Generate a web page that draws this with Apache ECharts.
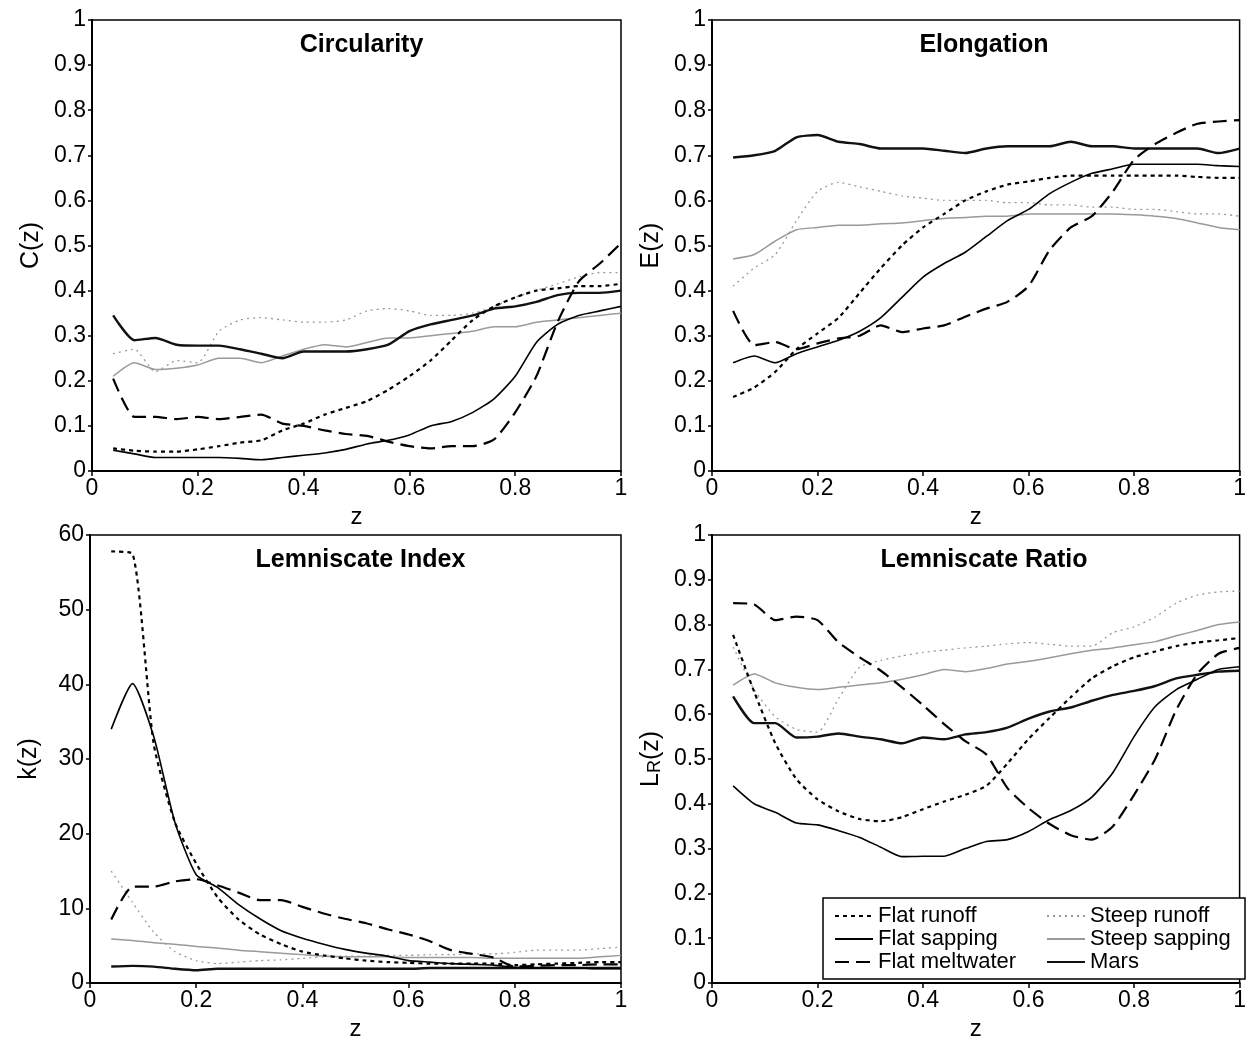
<!DOCTYPE html>
<html>
<head>
<meta charset="utf-8">
<script src="https://cdn.jsdelivr.net/npm/echarts@6/dist/echarts.min.js"></script>
<style>
    html, body { margin: 0; padding: 0; background: #fff; }
    #chart { width: 1249px; height: 1045px; }
</style>
</head>
<body>
<div id="chart"></div>
<script>
// z 坐标（横轴）
var zVals = [0.04, 0.08, 0.12, 0.16, 0.20, 0.24, 0.28, 0.32, 0.36, 0.40, 0.44, 0.48, 0.52,
    0.56, 0.60, 0.64, 0.68, 0.72, 0.76, 0.80, 0.84, 0.88, 0.92, 0.96, 1.00];

// Circularity
var circFlatRunoff = [0.05, 0.045, 0.043, 0.043, 0.048, 0.055, 0.063, 0.068, 0.09, 0.105, 0.125, 0.14, 0.155, 0.18, 0.21, 0.245, 0.29, 0.335, 0.365, 0.385, 0.40, 0.405, 0.41, 0.41, 0.415];
var circFlatSapping = [0.046, 0.038, 0.03, 0.03, 0.03, 0.03, 0.028, 0.025, 0.03, 0.035, 0.04, 0.048, 0.06, 0.068, 0.08, 0.10, 0.11, 0.13, 0.16, 0.21, 0.285, 0.325, 0.345, 0.355, 0.365];
var circFlatMelt = [0.205, 0.12, 0.12, 0.115, 0.12, 0.115, 0.12, 0.125, 0.105, 0.10, 0.09, 0.082, 0.078, 0.065, 0.055, 0.05, 0.055, 0.055, 0.07, 0.13, 0.21, 0.33, 0.42, 0.46, 0.505];
var circSteepRunoff = [0.26, 0.27, 0.22, 0.245, 0.24, 0.31, 0.335, 0.34, 0.335, 0.33, 0.33, 0.335, 0.355, 0.36, 0.355, 0.345, 0.345, 0.35, 0.365, 0.385, 0.40, 0.415, 0.43, 0.44, 0.44];
var circSteepSapping = [0.21, 0.24, 0.225, 0.228, 0.235, 0.25, 0.25, 0.24, 0.255, 0.27, 0.28, 0.275, 0.285, 0.295, 0.295, 0.30, 0.305, 0.31, 0.32, 0.32, 0.33, 0.335, 0.34, 0.345, 0.35];
var circMars = [0.345, 0.29, 0.295, 0.28, 0.278, 0.278, 0.27, 0.26, 0.25, 0.265, 0.265, 0.265, 0.27, 0.28, 0.31, 0.325, 0.335, 0.345, 0.36, 0.365, 0.375, 0.39, 0.395, 0.395, 0.40];

// Elongation
var elonFlatRunoff = [0.164, 0.185, 0.22, 0.27, 0.305, 0.34, 0.395, 0.45, 0.50, 0.54, 0.57, 0.60, 0.62, 0.635, 0.642, 0.65, 0.655, 0.655, 0.655, 0.655, 0.655, 0.655, 0.652, 0.65, 0.65];
var elonFlatSapping = [0.24, 0.255, 0.24, 0.26, 0.275, 0.29, 0.31, 0.34, 0.385, 0.43, 0.46, 0.485, 0.52, 0.555, 0.58, 0.615, 0.64, 0.66, 0.67, 0.68, 0.68, 0.68, 0.68, 0.677, 0.675];
var elonFlatMelt = [0.355, 0.279, 0.286, 0.27, 0.283, 0.294, 0.30, 0.323, 0.308, 0.316, 0.323, 0.342, 0.36, 0.375, 0.41, 0.49, 0.54, 0.565, 0.62, 0.69, 0.725, 0.75, 0.77, 0.775, 0.778];
var elonSteepRunoff = [0.41, 0.45, 0.48, 0.555, 0.62, 0.64, 0.63, 0.62, 0.61, 0.605, 0.60, 0.60, 0.60, 0.595, 0.595, 0.59, 0.59, 0.585, 0.585, 0.58, 0.58, 0.575, 0.57, 0.57, 0.565];
var elonSteepSapping = [0.47, 0.48, 0.51, 0.535, 0.54, 0.545, 0.545, 0.548, 0.55, 0.555, 0.56, 0.562, 0.565, 0.565, 0.57, 0.57, 0.57, 0.57, 0.57, 0.568, 0.565, 0.56, 0.55, 0.54, 0.535];
var elonMars = [0.695, 0.70, 0.71, 0.74, 0.745, 0.73, 0.725, 0.715, 0.715, 0.715, 0.71, 0.705, 0.715, 0.72, 0.72, 0.72, 0.73, 0.72, 0.72, 0.715, 0.715, 0.715, 0.715, 0.705, 0.715];

// Lemniscate Index
var liFlatRunoff = [57.8, 57.5, 32, 21.5, 16, 11.5, 8.5, 6.5, 5.2, 4.2, 3.7, 3.3, 3.0, 2.8, 2.7, 2.6, 2.6, 2.6, 2.6, 2.4, 2.5, 2.6, 2.7, 2.8, 2.8];
var liFlatSapping = [34, 40.1, 33, 21.5, 14.5, 12.8, 10.5, 8.6, 7.0, 6.0, 5.2, 4.5, 4.0, 3.6, 3.0, 2.8, 2.6, 2.5, 2.4, 2.1, 2.0, 2.0, 2.0, 1.9, 1.9];
var liFlatMelt = [8.5, 12.9, 12.9, 13.6, 13.9, 13.1, 12.1, 11.1, 11.1, 10.2, 9.3, 8.6, 8.0, 7.2, 6.5, 5.6, 4.4, 3.9, 3.4, 2.2, 2.3, 2.4, 2.4, 2.5, 2.5];
var liSteepRunoff = [15, 10.8, 6.8, 4.2, 3.0, 2.6, 2.8, 3.0, 3.1, 3.3, 3.5, 3.6, 3.6, 3.7, 3.7, 3.8, 3.8, 3.9, 3.9, 4.1, 4.4, 4.4, 4.4, 4.6, 4.8];
var liSteepSapping = [5.9, 5.7, 5.4, 5.2, 4.9, 4.7, 4.4, 4.2, 4.0, 3.8, 3.6, 3.5, 3.5, 3.5, 3.4, 3.4, 3.4, 3.4, 3.3, 3.3, 3.3, 3.3, 3.3, 3.5, 3.7];
var liMars = [2.2, 2.3, 2.2, 1.9, 1.7, 1.9, 1.9, 1.9, 1.9, 1.9, 1.9, 1.9, 1.9, 1.9, 1.9, 2.0, 2.0, 2.0, 2.0, 2.0, 2.0, 2.0, 2.0, 2.0, 2.0];

// Lemniscate Ratio
var lrFlatRunoff = [0.777, 0.65, 0.535, 0.455, 0.41, 0.383, 0.366, 0.361, 0.37, 0.388, 0.405, 0.42, 0.44, 0.49, 0.545, 0.592, 0.638, 0.68, 0.707, 0.727, 0.74, 0.752, 0.76, 0.765, 0.77];
var lrFlatSapping = [0.44, 0.40, 0.381, 0.357, 0.353, 0.34, 0.325, 0.303, 0.282, 0.283, 0.283, 0.30, 0.316, 0.32, 0.338, 0.365, 0.385, 0.415, 0.47, 0.55, 0.617, 0.655, 0.678, 0.70, 0.706];
var lrFlatMelt = [0.848, 0.845, 0.81, 0.818, 0.81, 0.76, 0.727, 0.697, 0.66, 0.62, 0.578, 0.54, 0.51, 0.435, 0.39, 0.355, 0.33, 0.32, 0.35, 0.42, 0.50, 0.61, 0.69, 0.735, 0.748];
var lrSteepRunoff = [0.75, 0.655, 0.594, 0.566, 0.56, 0.635, 0.705, 0.72, 0.73, 0.738, 0.743, 0.748, 0.752, 0.757, 0.76, 0.756, 0.752, 0.752, 0.782, 0.795, 0.817, 0.848, 0.866, 0.873, 0.875];
var lrSteepSapping = [0.665, 0.69, 0.67, 0.66, 0.655, 0.66, 0.665, 0.67, 0.678, 0.688, 0.70, 0.695, 0.702, 0.712, 0.718, 0.726, 0.735, 0.743, 0.748, 0.755, 0.762, 0.775, 0.787, 0.80, 0.806];
var lrMars = [0.64, 0.58, 0.58, 0.548, 0.55, 0.557, 0.55, 0.544, 0.535, 0.548, 0.544, 0.555, 0.56, 0.57, 0.59, 0.606, 0.615, 0.63, 0.643, 0.652, 0.663, 0.68, 0.688, 0.695, 0.697];

var seriesNames = ['Flat runoff', 'Flat sapping', 'Flat meltwater', 'Steep runoff', 'Steep sapping', 'Mars'];
var panelTitles = ['Circularity', 'Elongation', 'Lemniscate Index', 'Lemniscate Ratio'];
var yNames = ['{n|C(z)}', '{n|E(z)}', '{n|k(z)}', '{n|L}{s|R}{n|(z)}'];

var FONT = '"Liberation Sans", Arial, sans-serif';

// 线型
var lineStyles = [
    {color: '#000', width: 2.2, type: [4, 4]},
    {color: '#000', width: 1.6, type: 'solid'},
    {color: '#000', width: 2.2, type: [14, 7]},
    {color: '#9a9a9a', width: 1.3, type: [2, 4]},
    {color: '#9a9a9a', width: 1.5, type: 'solid'},
    {color: '#111', width: 2.4, type: 'solid'}
];

var panelData = [
    [circFlatRunoff, circFlatSapping, circFlatMelt, circSteepRunoff, circSteepSapping, circMars],
    [elonFlatRunoff, elonFlatSapping, elonFlatMelt, elonSteepRunoff, elonSteepSapping, elonMars],
    [liFlatRunoff, liFlatSapping, liFlatMelt, liSteepRunoff, liSteepSapping, liMars],
    [lrFlatRunoff, lrFlatSapping, lrFlatMelt, lrSteepRunoff, lrSteepSapping, lrMars]
];

var grids = [
    {left: 92, top: 20, width: 529, height: 451},
    {left: 712, top: 20, width: 534, height: 451},
    {left: 90, top: 535, width: 531, height: 448},
    {left: 712, top: 535, width: 534, height: 448}
];

var chart = echarts.init(document.getElementById('chart'));

var xAxes = [], yAxes = [], series = [], titles = [];
for (var p = 0; p < 4; p++) {
    grids[p].show = true;
    grids[p].borderColor = '#000';
    grids[p].borderWidth = 1.5;
    grids[p].backgroundColor = 'transparent';

    xAxes.push({
        gridIndex: p, type: 'value', min: 0, max: 1, interval: 0.2,
        name: 'z', nameLocation: 'middle', nameGap: 34,
        nameTextStyle: {fontSize: 24, fontFamily: FONT, color: '#000'},
        axisLine: {lineStyle: {color: '#000', width: 2}},
        axisTick: {show: true, length: 5, lineStyle: {color: '#000', width: 1.5}},
        axisLabel: {fontSize: 23, fontFamily: FONT, color: '#000', margin: 6},
        splitLine: {show: false}
    });
    var isIndex = (p == 2);
    yAxes.push({
        gridIndex: p, type: 'value', min: 0,
        max: isIndex ? 60 : 1, interval: isIndex ? 10 : 0.1,
        name: yNames[p], nameLocation: 'middle', nameGap: 48,
        nameTextStyle: {
            fontFamily: FONT, color: '#000',
            rich: {
                n: {fontSize: 25, fontFamily: FONT, color: '#000'},
                s: {fontSize: 18, fontFamily: FONT, color: '#000', verticalAlign: 'bottom', padding: [6, 0, 0, 0]}
            }
        },
        axisLine: {show: true, lineStyle: {color: '#000', width: 2}},
        axisTick: {show: true, length: 4, lineStyle: {color: '#000', width: 1.5}},
        axisLabel: {fontSize: 23, fontFamily: FONT, color: '#000', margin: 6},
        splitLine: {show: false}
    });
    titles.push({
        text: panelTitles[p],
        left: grids[p].left + grids[p].width / 2,
        top: grids[p].top + 8,
        textAlign: 'center',
        textStyle: {fontSize: 25, fontWeight: 'bold', fontFamily: FONT, color: '#000'}
    });
    for (var s = 0; s < 6; s++) {
        var vals = panelData[p][s];
        series.push({
            name: seriesNames[s],
            type: 'line',
            xAxisIndex: p,
            yAxisIndex: p,
            symbol: 'none',
            smooth: 0.2,
            z: s >= 3 ? 2 : 3,
            lineStyle: lineStyles[s],
            itemStyle: {color: lineStyles[s].color},
            data: zVals.map(function (z, i) {
                return [z, vals[i]];
            })
        });
    }
}

var legendText = {fontSize: 22, fontFamily: FONT, color: '#000', lineHeight: 22};

var option = {
    animation: false,
    backgroundColor: '#fff',
    title: titles,
    grid: grids,
    xAxis: xAxes,
    yAxis: yAxes,
    legend: [
        {
            data: seriesNames.slice(0, 3), orient: 'vertical', left: 834, top: 905,
            itemWidth: 38, itemHeight: 12, itemGap: 1, padding: 0,
            itemStyle: {opacity: 0},
            textStyle: legendText, selectedMode: false
        },
        {
            data: seriesNames.slice(3), orient: 'vertical', left: 1046, top: 905,
            itemWidth: 38, itemHeight: 12, itemGap: 1, padding: 0,
            itemStyle: {opacity: 0},
            textStyle: legendText, selectedMode: false
        }
    ],
    graphic: [
        {
            type: 'rect', z: 1,
            shape: {x: 823, y: 898, width: 422, height: 81},
            style: {fill: '#fff', stroke: '#000', lineWidth: 1.5}
        }
    ],
    series: series
};

chart.setOption(option);
</script>
</body>
</html>
